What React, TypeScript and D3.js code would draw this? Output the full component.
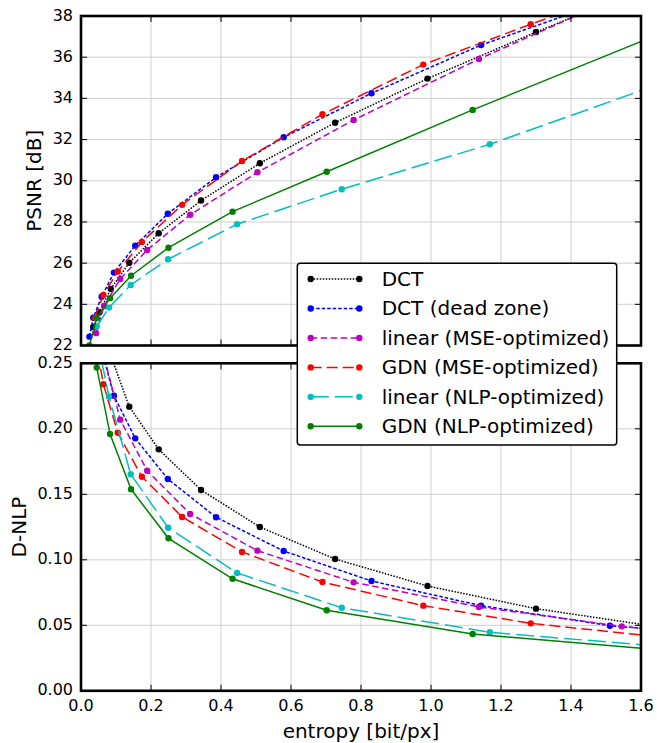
import * as d3 from 'd3';

// entropy [bit/px] per method
const dctRate = [0.035, 0.052, 0.085, 0.138, 0.222, 0.343, 0.511, 0.726, 0.99, 1.3, 1.72];
const dctPsnr = [22.9, 23.6, 24.75, 26.02, 27.45, 29.04, 30.85, 32.82, 34.96, 37.22, 40.1];
const dctNlp = [0.31, 0.285, 0.256, 0.2169, 0.1843, 0.1533, 0.125, 0.1006, 0.08, 0.0627, 0.046];

const dzRate = [0.024, 0.035, 0.059, 0.094, 0.155, 0.248, 0.386, 0.579, 0.83, 1.143, 1.511, 1.95];
const dzPsnr = [22.43, 23.35, 24.37, 25.54, 26.85, 28.4, 30.17, 32.11, 34.25, 36.59, 38.78, 41.2];
const dzNlp = [0.33, 0.3, 0.26, 0.2253, 0.1927, 0.1617, 0.1325, 0.1067, 0.0838, 0.065, 0.0497, 0.04];

const linMseRate = [0.043, 0.066, 0.112, 0.189, 0.312, 0.504, 0.779, 1.137, 1.545, 2.0];
const linMsePsnr = [22.6, 23.92, 25.23, 26.64, 28.35, 30.41, 32.95, 35.91, 39.0, 41.7];
const linMseNlp = [0.3, 0.255, 0.207, 0.168, 0.135, 0.107, 0.0828, 0.064, 0.0492, 0.037];

const gdnMseRate = [0.04, 0.064, 0.105, 0.174, 0.289, 0.46, 0.69, 0.978, 1.285, 1.65];
const gdnMsePsnr = [23.33, 24.46, 25.59, 27.03, 28.83, 30.96, 33.23, 35.64, 37.6, 39.8];
const gdnMseNlp = [0.27, 0.234, 0.197, 0.1634, 0.1327, 0.106, 0.083, 0.065, 0.0515, 0.0412];

const linNlpRate = [0.045, 0.08, 0.142, 0.249, 0.446, 0.745, 1.168, 1.72];
const linNlpPsnr = [22.92, 23.84, 24.94, 26.19, 27.89, 29.59, 31.77, 35.1];
const linNlpNlp = [0.27, 0.2245, 0.1653, 0.1245, 0.09, 0.0634, 0.0447, 0.0325];

const gdnNlpRate = [0.024, 0.045, 0.083, 0.143, 0.25, 0.433, 0.702, 1.119, 1.75];
const gdnNlpPsnr = [22.0, 23.33, 24.3, 25.39, 26.75, 28.5, 30.44, 33.44, 37.8];
const gdnNlpNlp = [0.32, 0.2467, 0.196, 0.1538, 0.1164, 0.0855, 0.0615, 0.0434, 0.029];

const labels = [
  'DCT',
  'DCT (dead zone)',
  'linear (MSE-optimized)',
  'GDN (MSE-optimized)',
  'linear (NLP-optimized)',
  'GDN (NLP-optimized)',
];

const xTicks = [0, 0.2, 0.4, 0.6, 0.8, 1.0, 1.2, 1.4, 1.6];
const psnrTicks = [22, 24, 26, 28, 30, 32, 34, 36, 38];
const nlpTicks = [0, 0.05, 0.1, 0.15, 0.2, 0.25];

const series = [
  { label: labels[0], rate: dctRate, psnr: dctPsnr, nlp: dctNlp, color: '#000000', dash: '1.5,1.5' },
  { label: labels[1], rate: dzRate, psnr: dzPsnr, nlp: dzNlp, color: '#0000ff', dash: '3.5,2' },
  { label: labels[2], rate: linMseRate, psnr: linMsePsnr, nlp: linMseNlp, color: '#bf00bf', dash: '6.5,3.5' },
  { label: labels[3], rate: gdnMseRate, psnr: gdnMsePsnr, nlp: gdnMseNlp, color: '#ff0000', dash: '11,5' },
  { label: labels[4], rate: linNlpRate, psnr: linNlpPsnr, nlp: linNlpNlp, color: '#00bfbf', dash: '18,6' },
  { label: labels[5], rate: gdnNlpRate, psnr: gdnNlpPsnr, nlp: gdnNlpNlp, color: '#008000', dash: 'none' },
];

const W = 657;
const H = 743;
const font = 'DejaVu Sans';

const x = d3.scaleLinear().domain([0, 1.6]).range([81, 641]);
const yTop = d3.scaleLinear().domain([22, 38]).range([345.5, 16]);
const yBot = d3.scaleLinear().domain([0, 0.25]).range([690.8, 363.3]);

function Panel({ id, y, ticks, fmt, field, label, labelX }) {
  const [x0, x1] = x.range();
  const [yb, yt] = y.range();
  return (
    <g>
      <defs>
        <clipPath id={id}>
          <rect x={x0} y={yt} width={x1 - x0} height={yb - yt} />
        </clipPath>
      </defs>
      <rect x={x0} y={yt} width={x1 - x0} height={yb - yt} fill="#fff" />
      {/* grid */}
      {xTicks.map((t) => (
        <line key={'gx' + t} x1={x(t)} x2={x(t)} y1={yt} y2={yb} stroke="#cfcfcf" strokeWidth={1} />
      ))}
      {ticks.map((t) => (
        <line key={'gy' + t} x1={x0} x2={x1} y1={y(t)} y2={y(t)} stroke="#cfcfcf" strokeWidth={1} />
      ))}
      {/* data */}
      <g clipPath={`url(#${id})`}>
        {series.map((s) => {
          const pts = s.rate.map((r, i) => [x(r), y(s[field][i])]);
          const line = d3.line()(pts);
          return (
            <g key={s.label}>
              <path d={line} fill="none" stroke={s.color} strokeWidth={1.5} strokeDasharray={s.dash} />
              {pts.map((p, i) => (
                <circle key={i} cx={p[0]} cy={p[1]} r={3.2} fill={s.color} />
              ))}
            </g>
          );
        })}
      </g>
      {/* ticks inside, all four sides */}
      {xTicks.map((t) => (
        <g key={'tx' + t}>
          <line x1={x(t)} x2={x(t)} y1={yb} y2={yb - 6} stroke="#000" />
          <line x1={x(t)} x2={x(t)} y1={yt} y2={yt + 6} stroke="#000" />
        </g>
      ))}
      {ticks.map((t) => (
        <g key={'ty' + t}>
          <line x1={x0} x2={x0 + 6} y1={y(t)} y2={y(t)} stroke="#000" />
          <line x1={x1} x2={x1 - 6} y1={y(t)} y2={y(t)} stroke="#000" />
          <text x={73} y={y(t) - 1} textAnchor="end" dominantBaseline="central" fontSize={16} fontFamily={font}>
            {fmt(t)}
          </text>
        </g>
      ))}
      <rect x={x0} y={yt} width={x1 - x0} height={yb - yt} fill="none" stroke="#000" strokeWidth={2.6} />
      <text
        transform={`translate(${labelX},${(yt + yb) / 2}) rotate(-90)`}
        textAnchor="middle"
        dominantBaseline="central"
        fontSize={20}
        fontFamily={font}
      >
        {label}
      </text>
    </g>
  );
}

function Legend() {
  const lx = 297.3;
  const ly = 263.3;
  const rows = d3.range(series.length).map((i) => 279 + i * 29.46);
  return (
    <g>
      <rect x={lx} y={ly} width={319.4} height={181.7} rx={3} fill="#fff" stroke="#000" strokeWidth={1.5} />
      {series.map((s, i) => (
        <g key={s.label}>
          <line x1={310.7} x2={359.3} y1={rows[i]} y2={rows[i]} stroke={s.color} strokeWidth={1.5} strokeDasharray={s.dash} />
          <circle cx={310.7} cy={rows[i]} r={3.2} fill={s.color} />
          <circle cx={359.3} cy={rows[i]} r={3.2} fill={s.color} />
          <text x={381.7} y={rows[i]} dominantBaseline="central" fontSize={20} fontFamily={font}>
            {s.label}
          </text>
        </g>
      ))}
    </g>
  );
}

export default function App() {
  return (
    <svg width={W} height={H} style={{ position: 'absolute', left: 0, top: 0, background: '#fff' }}>
      <rect width={W} height={H} fill="#fff" />
      <Panel id="clipTop" y={yTop} ticks={psnrTicks} fmt={(t) => String(t)} field="psnr" label="PSNR [dB]" labelX={34} />
      <Panel id="clipBot" y={yBot} ticks={nlpTicks} fmt={(t) => t.toFixed(2)} field="nlp" label="D-NLP" labelX={19} />
      {xTicks.map((t) => (
        <text key={t} x={x(t)} y={705} textAnchor="middle" dominantBaseline="central" fontSize={16} fontFamily={font}>
          {t.toFixed(1)}
        </text>
      ))}
      <text x={361} y={731} textAnchor="middle" dominantBaseline="central" fontSize={20} fontFamily={font}>
        entropy [bit/px]
      </text>
      <Legend />
    </svg>
  );
}
